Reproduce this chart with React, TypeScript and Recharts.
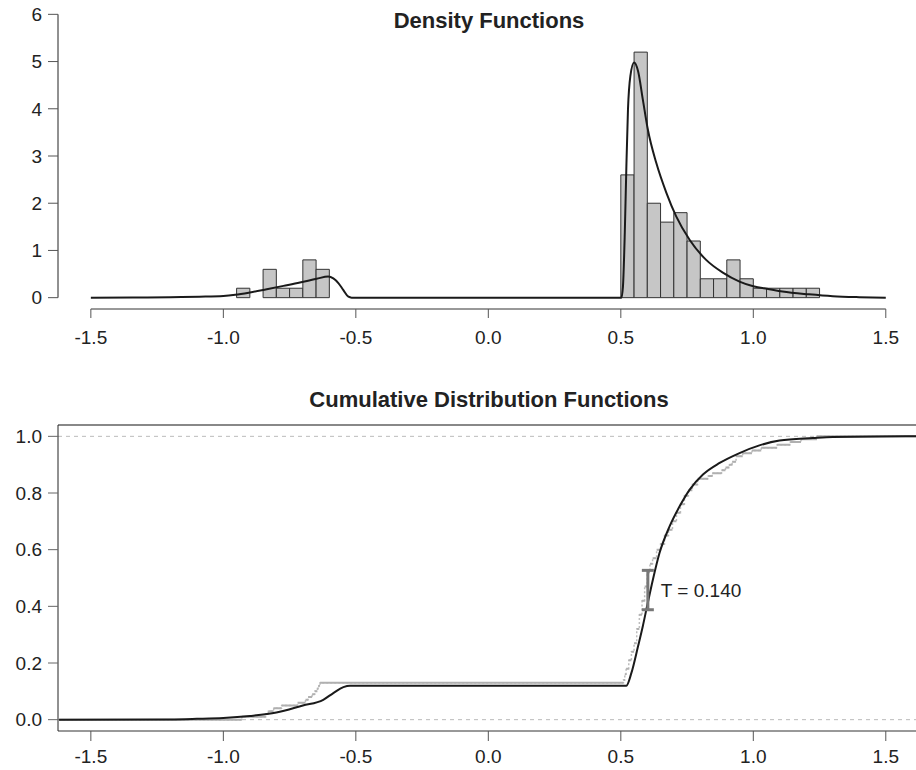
import {
  ComposedChart,
  Line,
  XAxis,
  YAxis,
  ReferenceArea,
  ReferenceLine,
  ReferenceDot,
  Scatter,
  ErrorBar,
} from "recharts";

// histogram bins (width 0.05), density heights
const binStart = [-0.95, -0.9, -0.85, -0.8, -0.75, -0.7, -0.65, 0.5, 0.55, 0.6, 0.65, 0.7, 0.75, 0.8, 0.85, 0.9, 0.95, 1.0, 1.05, 1.1, 1.15, 1.2];
const binDensity = [0.2, 0, 0.6, 0.2, 0.2, 0.8, 0.6, 2.6, 5.2, 2.0, 1.6, 1.8, 1.2, 0.4, 0.4, 0.8, 0.4, 0.2, 0.2, 0.2, 0.2, 0.2];
const binWidth = 0.05;

// fitted density curve
const densX = [-1.5, -1.3, -1.2, -1.09, -1.0, -0.955, -0.9, -0.836, -0.773, -0.711, -0.648, -0.604, -0.585, -0.566, -0.547, -0.528, -0.516, 0.5, 0.502, 0.508, 0.515, 0.521, 0.527, 0.536, 0.55, 0.565, 0.583, 0.602, 0.634, 0.672, 0.709, 0.76, 0.822, 0.885, 0.948, 1.0, 1.06, 1.11, 1.21, 1.3, 1.4, 1.5];
const densY = [0, 0.003, 0.01, 0.02, 0.035, 0.06, 0.11, 0.18, 0.25, 0.32, 0.4, 0.45, 0.41, 0.31, 0.16, 0.02, 0, 0, 0, 0.23, 1.37, 2.78, 3.98, 4.69, 4.98, 4.8, 4.2, 3.56, 2.85, 2.22, 1.72, 1.22, 0.8, 0.53, 0.34, 0.24, 0.18, 0.13, 0.07, 0.03, 0.01, 0];

// fitted CDF
const cdfX = [-1.62, -1.2, -1.1, -1.0, -0.9, -0.8, -0.7, -0.623, -0.585, -0.547, -0.522, 0.521, 0.54, 0.565, 0.583, 0.599, 0.621, 0.646, 0.684, 0.722, 0.76, 0.81, 0.873, 0.948, 1.023, 1.099, 1.224, 1.3, 1.476, 1.62];
const cdfY = [0, 0.001, 0.003, 0.006, 0.013, 0.025, 0.05, 0.07, 0.094, 0.115, 0.12, 0.12, 0.165, 0.259, 0.33, 0.4, 0.494, 0.588, 0.682, 0.753, 0.812, 0.865, 0.906, 0.941, 0.968, 0.985, 0.994, 0.998, 0.9995, 1];

// empirical CDF steps
const ecdfX = [-1.62, -0.93, -0.84, -0.83, -0.81, -0.78, -0.72, -0.69, -0.68, -0.665, -0.655, -0.645, -0.64, -0.635, 0.51, 0.515, 0.52, 0.53, 0.54, 0.55, 0.56, 0.57, 0.58, 0.59, 0.6, 0.61, 0.62, 0.635, 0.65, 0.665, 0.68, 0.695, 0.71, 0.725, 0.74, 0.755, 0.77, 0.79, 0.83, 0.845, 0.88, 0.895, 0.91, 0.92, 0.935, 0.96, 0.995, 1.03, 1.09, 1.14, 1.18, 1.24, 1.62];
const ecdfF = [0, 0.01, 0.02, 0.03, 0.04, 0.05, 0.06, 0.07, 0.08, 0.09, 0.1, 0.11, 0.12, 0.13, 0.14, 0.16, 0.18, 0.21, 0.24, 0.27, 0.32, 0.37, 0.42, 0.47, 0.52, 0.55, 0.57, 0.6, 0.62, 0.65, 0.67, 0.7, 0.73, 0.76, 0.79, 0.81, 0.83, 0.85, 0.86, 0.87, 0.88, 0.89, 0.9, 0.91, 0.93, 0.94, 0.95, 0.96, 0.97, 0.98, 0.99, 1.0, 1.0];

// largest gap
const tStatX = [0.602];
const tLow = [0.388];
const tHigh = [0.527];
const tLabel = "T = 0.140";

const xTicks = [-1.5, -1.0, -0.5, 0.0, 0.5, 1.0, 1.5];
const densTicks = [0, 1, 2, 3, 4, 5, 6];
const cdfTicks = [0, 0.2, 0.4, 0.6, 0.8, 1.0];

const FONT = "'Liberation Sans', Arial, Helvetica, sans-serif";
const xDomain: [number, number] = [-1.624, 1.614];

const densData = densX.map((x, i) => ({ x, y: densY[i] }));
const cdfData = cdfX.map((x, i) => ({ x, y: cdfY[i] }));
const ecdfData = ecdfX.map((x, i) => ({ x, f: ecdfF[i] }));
const ecdfFlat: { x: number; f: number | null }[] = [];
for (let i = 0; i < ecdfX.length - 1; i++) {
  ecdfFlat.push({ x: ecdfX[i], f: ecdfF[i] });
  ecdfFlat.push({ x: ecdfX[i + 1], f: ecdfF[i] });
  ecdfFlat.push({ x: ecdfX[i + 1], f: null });
}
const tData = tStatX.map((x, i) => ({
  x,
  y: (tLow[i] + tHigh[i]) / 2,
  err: (tHigh[i] - tLow[i]) / 2,
}));

const tickStyle = { fontSize: 19, fill: "#222", fontFamily: FONT };

const titleStyle: React.CSSProperties = {
  position: "absolute",
  left: 489,
  transform: "translateX(-50%)",
  fontSize: 22,
  lineHeight: "22px",
  fontWeight: "bold",
  color: "#222",
  whiteSpace: "nowrap",
};

export default function App() {
  return (
    <div style={{ position: "relative", width: 916, height: 770, background: "#fff", fontFamily: FONT }}>
      <style>{"body{margin:0}"}</style>
      <div style={{ ...titleStyle, top: 10 }}>Density Functions</div>
      <div style={{ ...titleStyle, top: 389 }}>Cumulative Distribution Functions</div>

      <div style={{ position: "absolute", left: 0, top: 0 }}>
        <ComposedChart width={916} height={360} margin={{ top: 3, right: 0, bottom: 0, left: 0 }}>
          <XAxis
            type="number"
            dataKey="x"
            domain={xDomain}
            ticks={xTicks}
            allowDataOverflow
            axisLine={false}
            tickLine={{ stroke: "#555" }}
            tickSize={9}
            tickMargin={13}
            height={51}
            tick={tickStyle}
            tickFormatter={(v: number) => v.toFixed(1)}
          />
          <YAxis
            type="number"
            domain={[-0.24, 6.24]}
            ticks={densTicks}
            allowDataOverflow
            axisLine={false}
            tickLine={{ stroke: "#555" }}
            tickSize={10}
            tickMargin={6}
            width={58}
            tick={tickStyle}
          />
          {binStart.map((b, i) =>
            binDensity[i] > 0 ? (
              <ReferenceArea
                key={"bin" + i}
                x1={b}
                x2={b + binWidth}
                y1={0}
                y2={binDensity[i]}
                fill="#c6c6c6"
                fillOpacity={1}
                stroke="#333"
                strokeWidth={1}
              />
            ) : null
          )}
          <ReferenceLine
            segment={[{ x: xTicks[0], y: -0.24 }, { x: xTicks[xTicks.length - 1], y: -0.24 }]}
            stroke="#333"
            strokeWidth={1}
          />
          <ReferenceLine
            segment={[{ x: xDomain[0], y: densTicks[0] }, { x: xDomain[0], y: densTicks[densTicks.length - 1] }]}
            stroke="#222"
            strokeWidth={1}
          />
          <Line
            data={densData}
            dataKey="y"
            type="monotone"
            stroke="#1a1a1a"
            strokeWidth={2}
            dot={false}
            isAnimationActive={false}
          />
        </ComposedChart>
      </div>

      <div style={{ position: "absolute", left: 0, top: 380 }}>
        <ComposedChart width={916} height={390} margin={{ top: 45, right: 0, bottom: 0, left: 0 }}>
          <XAxis
            type="number"
            dataKey="x"
            domain={xDomain}
            ticks={xTicks}
            allowDataOverflow
            axisLine={{ stroke: "#333" }}
            tickLine={{ stroke: "#555" }}
            tickSize={10}
            tickMargin={9}
            height={39}
            tick={tickStyle}
            tickFormatter={(v: number) => v.toFixed(1)}
          />
          <YAxis
            type="number"
            domain={[-0.04, 1.04]}
            ticks={cdfTicks}
            allowDataOverflow
            axisLine={{ stroke: "#222" }}
            tickLine={{ stroke: "#666" }}
            tickSize={10}
            tickMargin={6}
            width={58}
            tick={tickStyle}
            tickFormatter={(v: number) => v.toFixed(1)}
          />
          <ReferenceLine y={1.04} stroke="#888" strokeWidth={2} />
          <ReferenceLine y={0} stroke="#bbb" strokeDasharray="4 4" />
          <ReferenceLine y={1} stroke="#bbb" strokeDasharray="4 4" />
          <Line
            data={ecdfData}
            dataKey="f"
            type="stepAfter"
            stroke="#bdbdbd"
            strokeWidth={1.5}
            strokeDasharray="2 2"
            dot={false}
            isAnimationActive={false}
          />
          <Line
            data={ecdfFlat}
            dataKey="f"
            type="linear"
            stroke="#b0b0b0"
            strokeWidth={2}
            dot={false}
            connectNulls={false}
            isAnimationActive={false}
          />
          <Line
            data={cdfData}
            dataKey="y"
            type="monotone"
            stroke="#1a1a1a"
            strokeWidth={2}
            dot={false}
            isAnimationActive={false}
          />
          <Scatter data={tData} dataKey="y" shape={() => <g />} isAnimationActive={false}>
            <ErrorBar dataKey="err" direction="y" width={6} stroke="#777" strokeWidth={3} />
          </Scatter>
          <ReferenceDot
            x={tData[0].x}
            y={tData[0].y}
            r={0}
            fill="none"
            stroke="none"
            label={{ value: tLabel, position: "right", offset: 13, fill: "#222", fontSize: 19, fontFamily: FONT }}
          />
        </ComposedChart>
      </div>
    </div>
  );
}
